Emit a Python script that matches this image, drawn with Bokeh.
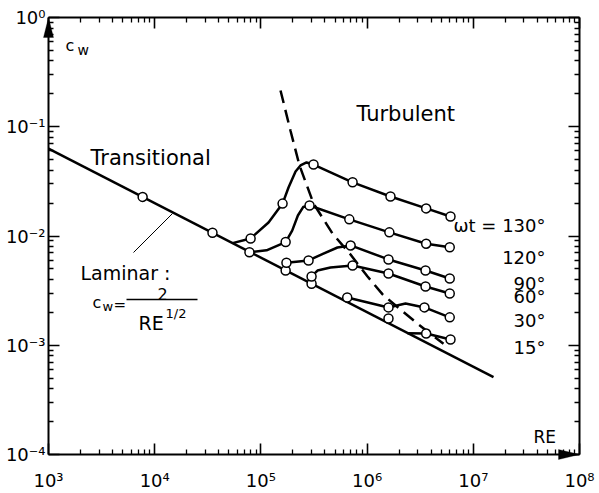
import math
from bokeh.plotting import figure
from bokeh.models import (LogAxis, FixedTicker, CustomJSTickFormatter,
                          PolyAnnotation, Range1d)
from bokeh.core.properties import value
from bokeh.embed import file_html
from bokeh.resources import INLINE

# ------------------------------------------------------------------ data
x_tick_exps = [3, 4, 5, 6, 7, 8]
x_tick_labels = ["10³", "10⁴", "10⁵", "10⁶", "10⁷", "10⁸"]
y_tick_exps = [0, -1, -2, -3, -4]
y_tick_labels = ["10⁰", "10⁻¹", "10⁻²", "10⁻³", "10⁻⁴"]

# laminar line  c_w = 2 / RE^(1/2)
laminar_re = [1.0e3, 1.55e7]
laminar_cw = [6.32e-2, 5.1e-4]
laminar_pt_re = [7.7e3, 3.5e4]
laminar_pt_cw = [2.28e-2, 1.07e-2]

angle_labels = ["ωt = 130°", "120°", "90°", "60°", "30°", "15°"]

# wt = 130 deg : curve path and measured points
c130_re = [5.41e4, 8.0e4, 1.18e5, 1.6e5, 1.82e5, 2.12e5, 2.36e5, 2.69e5, 3.13e5, 7.3e5, 1.66e6, 3.6e6, 6.1e6]
c130_cw = [8.6e-3, 9.5e-3, 1.33e-2, 1.98e-2, 2.78e-2, 3.89e-2, 4.42e-2, 4.71e-2, 4.51e-2, 3.1e-2, 2.3e-2, 1.79e-2, 1.51e-2]
p130_re = [8.0e4, 1.6e5, 3.13e5, 7.3e5, 1.66e6, 3.6e6, 6.1e6]
p130_cw = [9.5e-3, 1.98e-2, 4.51e-2, 3.1e-2, 2.3e-2, 1.79e-2, 1.51e-2]

# wt = 120 deg
c120_re = [7.8e4, 1.13e5, 1.71e5, 1.97e5, 2.23e5, 2.5e5, 2.87e5, 6.8e5, 1.62e6, 3.6e6, 6.0e6]
c120_cw = [7.1e-3, 7.4e-3, 8.8e-3, 1.12e-2, 1.54e-2, 1.84e-2, 1.9e-2, 1.42e-2, 1.08e-2, 8.5e-3, 7.9e-3]
p120_re = [7.8e4, 1.71e5, 2.87e5, 6.8e5, 1.62e6, 3.6e6, 6.0e6]
p120_cw = [7.1e-3, 8.8e-3, 1.9e-2, 1.42e-2, 1.08e-2, 8.5e-3, 7.9e-3]

# wt = 90 deg
c90_re = [1.71e5, 1.74e5, 2.81e5, 3.88e5, 5.26e5, 7.0e5, 1.59e6, 3.55e6, 6.0e6]
c90_cw = [4.84e-3, 5.7e-3, 5.97e-3, 6.9e-3, 7.85e-3, 8.2e-3, 6.1e-3, 4.83e-3, 4.08e-3]
p90_re = [1.71e5, 1.74e5, 2.81e5, 7.0e5, 1.59e6, 3.55e6, 6.0e6]
p90_cw = [4.84e-3, 5.7e-3, 5.97e-3, 8.2e-3, 6.1e-3, 4.83e-3, 4.08e-3]

# wt = 60 deg
c60_re = [3.0e5, 3.0e5, 3.41e5, 4.52e5, 7.3e5, 1.59e6, 3.55e6, 6.0e6]
c60_cw = [3.65e-3, 4.26e-3, 4.83e-3, 5.15e-3, 5.37e-3, 4.54e-3, 3.45e-3, 2.98e-3]
p60_re = [3.0e5, 3.0e5, 7.3e5, 1.59e6, 3.55e6, 6.0e6]
p60_cw = [3.65e-3, 4.26e-3, 5.37e-3, 4.54e-3, 3.45e-3, 2.98e-3]

# wt = 30 deg
c30_re = [6.5e5, 1.59e6, 2.3e6, 3.47e6, 6.0e6]
c30_cw = [2.74e-3, 2.22e-3, 2.41e-3, 2.22e-3, 1.8e-3]
p30_re = [6.5e5, 1.59e6, 3.47e6, 6.0e6]
p30_cw = [2.74e-3, 2.22e-3, 2.22e-3, 1.8e-3]

# wt = 15 deg
c15_re = [2.4e6, 3.6e6, 6.1e6]
c15_cw = [1.29e-3, 1.28e-3, 1.13e-3]
p15_re = [1.59e6, 3.6e6, 6.1e6]
p15_cw = [1.76e-3, 1.28e-3, 1.13e-3]

# transition locus (dashed)
trans_re = [1.53e5, 1.9e5, 2.31e5, 3.13e5, 4.72e5, 6.98e5, 1.01e6, 1.4e6, 2.11e6, 3.05e6, 5.24e6]
trans_cw = [2.15e-1, 9.2e-2, 4.42e-2, 1.98e-2, 1.054e-2, 6.77e-3, 4.26e-3, 2.92e-3, 2.08e-3, 1.55e-3, 1.03e-3]

# ------------------------------------------------------------------ layout helpers
X_LO, X_HI, Y_LO, Y_HI = 1e3, 1e8, 1e-4, 1.0
BL, BR, BT, BB = 48, 579, 17, 454          # axis box in pixels
FL, FR, FT, FB = 42, 582, 13, 461          # plotting frame in pixels (a little larger)
DX = (BR - BL) / (math.log10(X_HI) - math.log10(X_LO))
DY = (BB - BT) / (math.log10(Y_HI) - math.log10(Y_LO))


def px2re(px):
    return 10 ** (math.log10(X_LO) + (px - BL) / DX)


def py2cw(py):
    return 10 ** (math.log10(Y_HI) - (py - BT) / DY)


FONT = "DejaVu Sans"

p = figure(width=599, height=493, x_axis_type="log", y_axis_type="log",
           x_range=Range1d(px2re(FL), px2re(FR)), y_range=Range1d(py2cw(FB), py2cw(FT)),
           output_backend="svg", toolbar_location=None,
           min_border_left=FL, min_border_right=599 - FR,
           min_border_top=FT, min_border_bottom=493 - FB)
p.grid.visible = False
p.outline_line_color = None
p.background_fill_color = "white"
p.border_fill_color = "white"

x_minor = [m * 10 ** e for e in range(3, 8) for m in range(2, 10)]
y_minor = [m * 10.0 ** e for e in range(-4, 0) for m in range(2, 10)]
x_ticker = FixedTicker(ticks=[10.0 ** e for e in x_tick_exps], minor_ticks=x_minor)
y_ticker = FixedTicker(ticks=[10.0 ** e for e in y_tick_exps], minor_ticks=y_minor)

fmt_code = """
const e = Math.round(Math.log10(tick));
const i = exps.indexOf(e);
return i >= 0 ? labels[i] : "";
"""
x_fmt = CustomJSTickFormatter(code=fmt_code, args=dict(exps=x_tick_exps, labels=x_tick_labels))
y_fmt = CustomJSTickFormatter(code=fmt_code, args=dict(exps=y_tick_exps, labels=y_tick_labels))

# --- the default axes carry only the tick labels
bottom_axis = p.below[0]
left_axis = p.left[0]
for ax, tk, fm in [(bottom_axis, x_ticker, x_fmt), (left_axis, y_ticker, y_fmt)]:
    ax.ticker = tk
    ax.formatter = fm
    ax.axis_line_color = None
    ax.major_tick_line_color = None
    ax.minor_tick_line_color = None
    ax.major_tick_in = 0
    ax.major_tick_out = 0
    ax.minor_tick_in = 0
    ax.minor_tick_out = 0
    ax.major_label_text_font = FONT
    ax.major_label_text_font_size = "18px"
    ax.major_label_text_color = "black"
bottom_axis.major_label_standoff = 8
left_axis.major_label_standoff = -3


# --- the box: four axes fixed at the decade limits, ticks pointing inwards
def box_axis(ticker, loc, bounds, tin, tout):
    return LogAxis(ticker=ticker, formatter=CustomJSTickFormatter(code="return '';"),
                   fixed_location=loc, bounds=bounds,
                   axis_line_width=2, axis_line_color="black",
                   major_tick_in=tin, major_tick_out=tout,
                   minor_tick_in=tin // 2, minor_tick_out=tout // 2,
                   major_tick_line_width=1.6, minor_tick_line_width=1.3,
                   major_tick_line_color="black", minor_tick_line_color="black",
                   major_label_standoff=0)


p.add_layout(box_axis(y_ticker, X_LO, (Y_LO, Y_HI), 0, 11), "right")   # left edge
p.add_layout(box_axis(y_ticker, X_HI, (Y_LO, Y_HI), 11, 0), "right")   # right edge
p.add_layout(box_axis(x_ticker, Y_LO, (X_LO, X_HI), 0, 11), "above")   # bottom edge
p.add_layout(box_axis(x_ticker, Y_HI, (X_LO, X_HI), 11, 0), "above")   # top edge

# arrow heads on the axes
p.add_layout(PolyAnnotation(xs=[px2re(BL - 5), X_LO, px2re(BL + 5)],
                            ys=[py2cw(BT + 20), Y_HI, py2cw(BT + 20)],
                            fill_color="black", fill_alpha=1.0, line_color="black", line_width=1))
p.add_layout(PolyAnnotation(xs=[px2re(BR - 21), X_HI, px2re(BR - 21)],
                            ys=[py2cw(BB - 5), Y_LO, py2cw(BB + 5)],
                            fill_color="black", fill_alpha=1.0, line_color="black", line_width=1))

LW = 2.5
# laminar line
p.line(laminar_re, laminar_cw, line_width=LW, line_color="black")
# transition locus
p.line(trans_re, trans_cw, line_width=LW, line_color="black", line_dash="13 7")

curves = [(c130_re, c130_cw), (c120_re, c120_cw), (c90_re, c90_cw),
          (c60_re, c60_cw), (c30_re, c30_cw), (c15_re, c15_cw)]
for xs, ys in curves:
    p.line(xs, ys, line_width=LW, line_color="black", line_join="round")

pts = [(laminar_pt_re, laminar_pt_cw), (p130_re, p130_cw), (p120_re, p120_cw),
       (p90_re, p90_cw), (p60_re, p60_cw), (p30_re, p30_cw), (p15_re, p15_cw)]
for xs, ys in pts:
    p.scatter(xs, ys, marker="circle", size=9, fill_color="white",
              line_color="black", line_width=1.5)

# leader line for the laminar label
p.line([px2re(133), px2re(172)], [py2cw(252), py2cw(213)], line_width=1, line_color="black")


def txt(px, py, s, size, align="left"):
    p.text(x=[px2re(px)], y=[py2cw(py)], text=[s], text_font=value(FONT),
           text_font_size=size, text_align=align, text_baseline="alphabetic",
           text_color="black")


# axis names
txt(65, 45, "c", "16px")
txt(77, 49, "w", "14px")
txt(533, 436, "RE", "17px")

# regime labels
txt(90, 157, "Transitional", "21px")
txt(356, 113, "Turbulent", "21px")

# laminar formula
txt(80, 272, "Laminar :", "19px")
txt(92, 302, "c", "16px")
txt(102, 306, "w", "13px")
txt(113, 304, "=", "15px")
p.line([px2re(126), px2re(197)], [py2cw(299), py2cw(299)], line_width=1.5, line_color="black")
txt(157, 293, "2", "16px")
txt(138, 322, "RE", "19px")
txt(165, 313, "1/2", "13px")

# phase-angle labels
angle_baselines = [225, 257, 283, 296, 320, 347]
for s, by in zip(angle_labels, angle_baselines):
    txt(545, by, s, "18px", align="right")

open("out.html", "w").write(file_html(p, INLINE))
